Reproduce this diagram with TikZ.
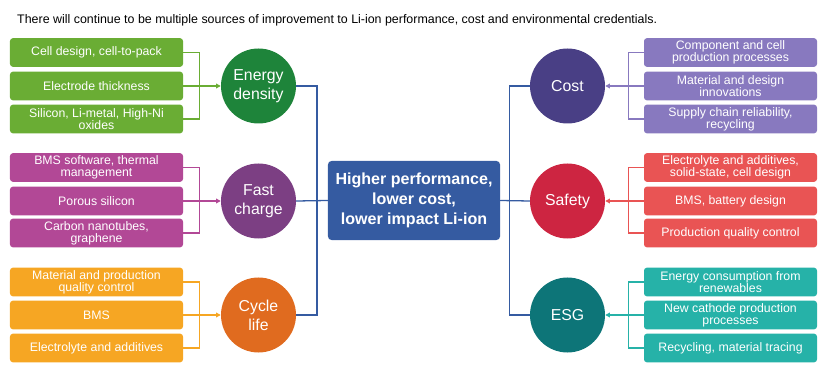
\documentclass[tikz,border=0pt]{standalone}
\usepackage{fontspec}
\setmainfont{Liberation Sans}
\usetikzlibrary{positioning,arrows.meta}
\definecolor{engbox}{HTML}{6AAD34}
\definecolor{engdot}{HTML}{1E843A}
\definecolor{chgbox}{HTML}{B24896}
\definecolor{chgdot}{HTML}{7C3F83}
\definecolor{lifebox}{HTML}{F6A623}
\definecolor{lifedot}{HTML}{E06B1F}
\definecolor{costbox}{HTML}{8879BF}
\definecolor{costdot}{HTML}{493F85}
\definecolor{safebox}{HTML}{E95454}
\definecolor{safedot}{HTML}{CD2541}
\definecolor{esgbox}{HTML}{26B2A8}
\definecolor{esgdot}{HTML}{0D7578}
\definecolor{corebox}{HTML}{355BA1}
\tikzset{
  srcbox/.style={rounded corners=2.5pt, inner sep=0pt, minimum width=5.19cm, minimum height=0.86cm, align=center, text=white, font=\fontsize{10.5}{10}\selectfont},
  themedot/.style={circle, inner sep=0pt, minimum size=2.25cm, align=center, text=white, font=\fontsize{13.5}{16}\selectfont},
  corenode/.style={rounded corners=3pt, inner sep=0pt, minimum width=5.16cm, minimum height=2.37cm, align=center, text=white, fill=corebox, font=\bfseries\fontsize{13.7}{17}\selectfont},
  feedline/.style={line width=1.1pt},
  feedarrow/.style={line width=1.1pt, -{Triangle[length=4pt, width=4pt]}},
  trunk/.style={line width=1.1pt, draw=corebox}
}
\begin{document}
\begin{tikzpicture}[x=0.03cm, y=-0.03cm]
  \useasboundingbox (0,0) rectangle (831,371);
  \node[anchor=west, font=\fontsize{10.6}{12}\selectfont, inner sep=0pt] (title) at (17,20.5) {There will continue to be multiple sources of improvement to Li-ion performance, cost and environmental credentials.};

  \node[corenode] (core) at (414,200.5) {Higher performance,\\lower cost,\\lower impact Li-ion};

  \node[themedot, fill=engdot] (energy) at (258.5,86) {Energy\\density};
  \node[themedot, fill=chgdot] (charge) at (258.5,201) {Fast\\charge};
  \node[themedot, fill=lifedot] (life) at (258.5,315) {Cycle\\life};
  \node[themedot, fill=costdot] (cost) at (567.5,86) {Cost};
  \node[themedot, fill=safedot] (safety) at (567.5,201) {Safety};
  \node[themedot, fill=esgdot] (esg) at (567.5,315) {ESG};

  \node[srcbox, fill=engbox] (eng1) at (96.5,52.5) {Cell design, cell-to-pack};
  \node[srcbox, fill=engbox] (eng2) at (96.5,86) {Electrode thickness};
  \node[srcbox, fill=engbox] (eng3) at (96.5,119) {Silicon, Li-metal, High-Ni\\oxides};
  \node[srcbox, fill=chgbox] (chg1) at (96.5,167.5) {BMS software, thermal\\management};
  \node[srcbox, fill=chgbox] (chg2) at (96.5,201) {Porous silicon};
  \node[srcbox, fill=chgbox] (chg3) at (96.5,233) {Carbon nanotubes,\\graphene};
  \node[srcbox, fill=lifebox] (life1) at (96.5,282) {Material and production\\quality control};
  \node[srcbox, fill=lifebox] (life2) at (96.5,315) {BMS};
  \node[srcbox, fill=lifebox] (life3) at (96.5,348) {Electrolyte and additives};

  \node[srcbox, fill=costbox] (cost1) at (730.5,52.5) {Component and cell\\production processes};
  \node[srcbox, fill=costbox] (cost2) at (730.5,86) {Material and design\\innovations};
  \node[srcbox, fill=costbox] (cost3) at (730.5,119) {Supply chain reliability,\\recycling};
  \node[srcbox, fill=safebox] (safe1) at (730.5,167.5) {Electrolyte and additives,\\solid-state, cell design};
  \node[srcbox, fill=safebox] (safe2) at (730.5,201) {BMS, battery design};
  \node[srcbox, fill=safebox] (safe3) at (730.5,233) {Production quality control};
  \node[srcbox, fill=esgbox] (esg1) at (730.5,282) {Energy consumption from\\renewables};
  \node[srcbox, fill=esgbox] (esg2) at (730.5,315) {New cathode production\\processes};
  \node[srcbox, fill=esgbox] (esg3) at (730.5,348) {Recycling, material tracing};

  \draw[feedline, draw=engbox] (eng1.east) -- ++(16,0) |- (eng3.east);
  \draw[feedarrow, draw=engbox, fill=engbox] (eng2.east) -- (energy.west);
  \draw[feedline, draw=chgbox] (chg1.east) -- ++(16,0) |- (chg3.east);
  \draw[feedarrow, draw=chgbox, fill=chgbox] (chg2.east) -- (charge.west);
  \draw[feedline, draw=lifebox] (life1.east) -- ++(16,0) |- (life3.east);
  \draw[feedarrow, draw=lifebox, fill=lifebox] (life2.east) -- (life.west);

  \draw[feedline, draw=costbox] (cost1.west) -- ++(-15,0) |- (cost3.west);
  \draw[feedarrow, draw=costbox, fill=costbox] (cost2.west) -- (cost.east);
  \draw[feedline, draw=safebox] (safe1.west) -- ++(-15,0) |- (safe3.west);
  \draw[feedarrow, draw=safebox, fill=safebox] (safe2.west) -- (safety.east);
  \draw[feedline, draw=esgbox] (esg1.west) -- ++(-15,0) |- (esg3.west);
  \draw[feedarrow, draw=esgbox, fill=esgbox] (esg2.west) -- (esg.east);

  \coordinate (ljoin) at (317,201);
  \coordinate (rjoin) at (509.5,201);
  \draw[trunk] (energy.east) -| (ljoin) |- (life.east);
  \draw[trunk] (charge.east) -- (core.west);
  \draw[trunk] (cost.west) -| (rjoin) |- (esg.west);
  \draw[trunk] (core.east) -- (safety.west);
\end{tikzpicture}
\end{document}
